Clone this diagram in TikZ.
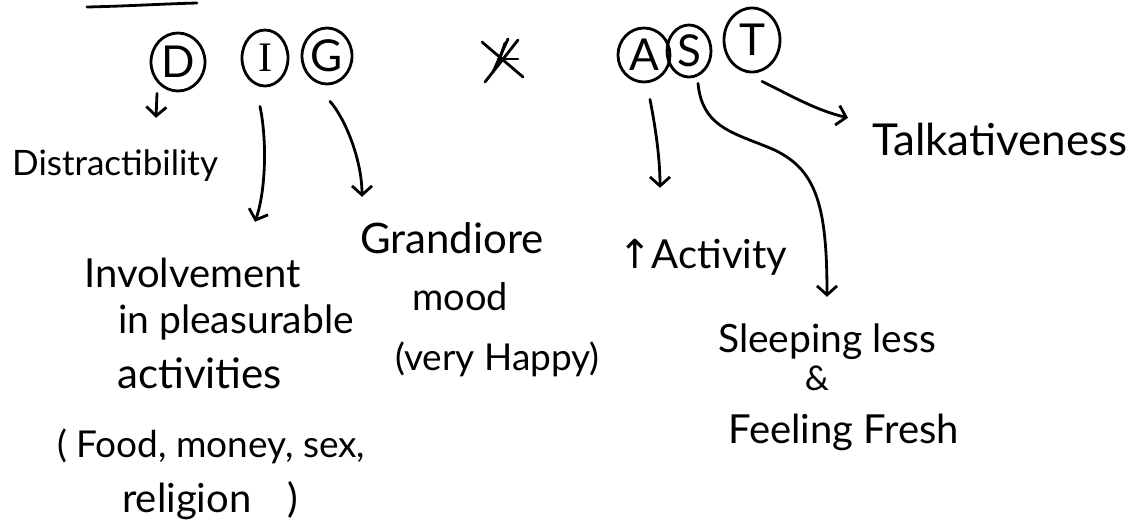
\documentclass[tikz,border=0pt]{standalone}
\usepackage{fontspec}
\setmainfont{Lato}
\newfontfamily\symfont{DejaVu Sans}
\newfontfamily\seriffont{Liberation Serif}
\usetikzlibrary{arrows.meta,shapes.geometric}
\begin{document}
\begin{tikzpicture}[x=1pt,y=-1pt,
  ink/.style={line width=2.8pt, line cap=round, line join=round},
  arr/.style={ink, -{Straight Barb[length=9pt,width=20pt]}},
  letter/.style={draw, ink, ellipse, inner sep=0pt, font=\fontsize{44}{44}\selectfont},
  lbl/.style={inner sep=0pt, anchor=base west, text height=29pt, text depth=9pt, font=\fontsize{40}{40}\selectfont},
]
\useasboundingbox[fill=white] (0,0) rectangle (1130,531);

% underline at top
\draw[ink] (87,7) .. controls (130,6) and (160,4) .. (197,3);

% circled letters
\node[letter, minimum width=54pt, minimum height=58pt] (D) at (178,62) {D};
\node[letter, minimum width=46pt, minimum height=56pt, font=\seriffont\fontsize{42}{42}\selectfont] (I) at (265,58) {I};
\node[letter, minimum width=50pt, minimum height=56pt] (G) at (327,56) {G};
\node[letter, minimum width=52pt, minimum height=54pt] (A) at (644,55) {A};
\node[letter, minimum width=44pt, minimum height=52pt] (S) at (689,51) {S};
\node[letter, minimum width=56pt, minimum height=64pt] (T) at (752,40) {T};

% crossed-out letter
\draw[ink] (482,42) -- (523,77);
\draw[ink] (518,40) -- (485,82);
\draw[ink] (508,39) -- (493,72);
\draw[ink] (505,43) -- (497,67);
\draw[ink] (498,59) -- (518,59);

% labels
\node[lbl, font=\fontsize{35}{35}\selectfont] (dist) at (12,175) {Distractibility};
\node[lbl, font=\fontsize{44}{44}\selectfont] (talk) at (872,155) {Talkativeness};
\node[lbl, font=\fontsize{42}{42}\selectfont] (gran) at (360,253) {Grandiore};
\node[lbl, font=\fontsize{38}{38}\selectfont] (mood) at (412,310) {mood};
\node[lbl, font=\fontsize{37}{37}\selectfont] (happy) at (395,370) {(very Happy)};
\node[lbl] (inv) at (84,287) {Involvement};
\node[lbl, font=\fontsize{39}{39}\selectfont] (inv2) at (118,333) {in pleasurable};
\node[lbl, font=\fontsize{42}{42}\selectfont] (inv3) at (117,388) {activities};
\node[lbl, font=\fontsize{37}{37}\selectfont] (food) at (57,457) {( Food, money, sex,};
\node[lbl] (relig) at (122,512) {religion\hspace{36pt})};
\node[lbl] (act) at (618,268) {{\symfont\fontsize{40}{40}\selectfont ↑}Activity};
\node[lbl, font=\fontsize{39}{39}\selectfont] (sleep) at (718,352) {Sleeping less};
\node[lbl, anchor=base, font=\fontsize{34}{34}\selectfont] (amp) at (817,390) {\&};
\node[lbl] (fresh) at (728,443) {Feeling Fresh};

% connectors
\draw[arr] ([xshift=-21pt,yshift=-1pt]D.south) -- ([xshift=144pt,yshift=28pt]dist.north west);
\draw[arr] ([xshift=-5pt,yshift=-19pt]I.south) .. controls (267,140) and (266,190) .. ([xshift=171pt,yshift=36pt]inv.north west);
\draw[arr] ([xshift=3pt,yshift=-16pt]G.south) .. controls (345,118) and (362,160) .. ([xshift=2pt,yshift=27pt]gran.north west);
\draw[arr] ([xshift=6pt,yshift=-16pt]A.south) .. controls (656,130) and (660,160) .. ([xshift=42pt,yshift=51pt]act.north west);
\draw[arr] ([xshift=9pt,yshift=-5pt]S.south) .. controls (702,125) and (730,132) .. (765,146)
   .. controls (815,165) and (827,200) .. ([xshift=109pt,yshift=26pt]sleep.north west);
\draw[arr] ([xshift=10pt,yshift=-8pt]T.south) .. controls (790,95) and (815,110) .. ([xshift=-24pt,yshift=8pt]talk.north west);
\end{tikzpicture}
\end{document}
